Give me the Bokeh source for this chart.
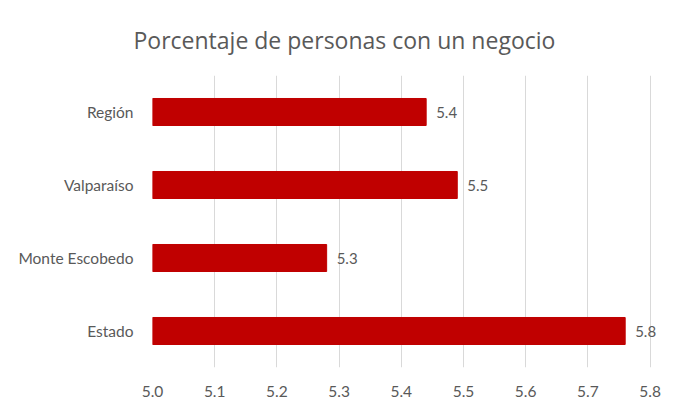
from bokeh.plotting import figure
from bokeh.models import Range1d, FactorRange, FixedTicker, ColumnDataSource, Title, LabelSet
from bokeh.core.properties import value
from bokeh.embed import file_html
from bokeh.resources import INLINE

categories = ["Región", "Valparaíso", "Monte Escobedo", "Estado"]
values = [5.44, 5.49, 5.28, 5.76]
x_ticks = [5.0, 5.1, 5.2, 5.3, 5.4, 5.5, 5.6, 5.7, 5.8]
title_text = "Porcentaje de personas con un negocio"

FONT = "Lato"
GREY = "#595959"

labels = [f"{v:.1f}" for v in values]
source = ColumnDataSource(dict(cat=categories, val=values, lab=labels))

p = figure(
    width=666, height=400,
    y_range=FactorRange(factors=list(reversed(categories))),
    x_range=Range1d(x_ticks[0], 5.82),
    output_backend="svg", toolbar_location=None,
    min_border_left=152, min_border_right=4, min_border_top=75, min_border_bottom=33,
)

p.title = Title(text=title_text, align="left", offset=-19, text_font="Open Sans",
                text_font_size="23px", text_color=GREY, text_font_style="normal",
                standoff=39)

p.hbar(y="cat", left=x_ticks[0], right="val", height=0.37, source=source,
       fill_color="#C00000", line_color="#C00000")

p.add_layout(LabelSet(x="val", y="cat", text="lab", source=source, x_offset=10,
                      text_baseline="middle", text_align="left", text_font=value(FONT),
                      text_font_size=value("15px"), text_color=GREY))

p.xaxis.ticker = FixedTicker(ticks=x_ticks)
p.xaxis.major_label_overrides = {t: f"{t:.1f}" for t in x_ticks}
p.xaxis.axis_line_color = None
p.xaxis.major_tick_line_color = None
p.xaxis.minor_tick_line_color = None
p.xaxis.major_label_standoff = 12
p.xaxis.major_label_text_font = FONT
p.xaxis.major_label_text_font_size = "15.5px"
p.xaxis.major_label_text_color = GREY

p.yaxis.axis_line_color = None
p.yaxis.major_tick_line_color = None
p.yaxis.minor_tick_line_color = None
p.yaxis.major_label_standoff = 13
p.yaxis.major_label_text_font = FONT
p.yaxis.major_label_text_font_size = "15.5px"
p.yaxis.major_label_text_color = GREY

p.xgrid.grid_line_color = "#d9d9d9"
p.xgrid.grid_line_width = 1
p.ygrid.grid_line_color = None
p.outline_line_color = None
p.background_fill_color = "white"
p.border_fill_color = "white"

open("out.html", "w").write(file_html(p, INLINE))
